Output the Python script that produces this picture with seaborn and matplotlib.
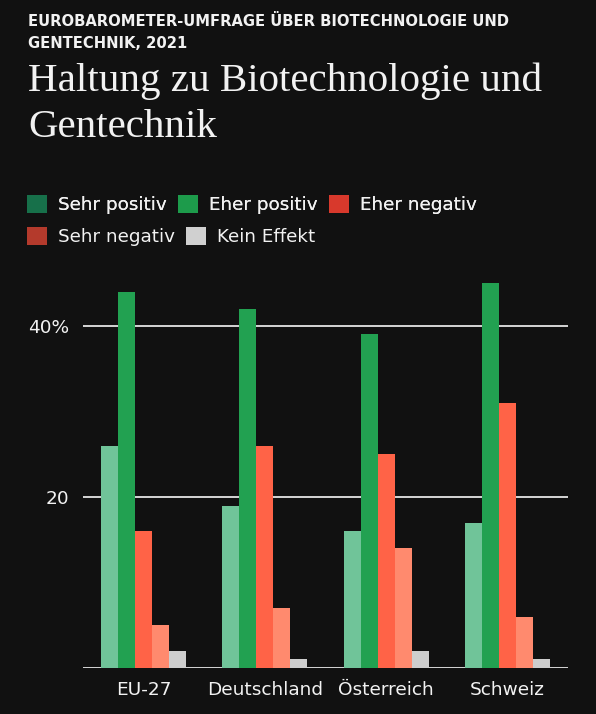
import numpy as np
import pandas as pd
import matplotlib
matplotlib.use("Agg")
import matplotlib.pyplot as plt
from matplotlib.patches import Patch
import seaborn as sns

# values (percent)
countries = ["EU-27", "Deutschland", "Österreich", "Schweiz"]
categories = ["Sehr positiv", "Eher positiv", "Eher negativ", "Sehr negativ", "Kein Effekt"]
sehr_positiv = [26, 19, 16, 17]
eher_positiv = [44, 42, 39, 45]
eher_negativ = [16, 26, 25, 31]
sehr_negativ = [5, 7, 14, 6]
kein_effekt = [2, 1, 2, 1]

bar_colors = ["#70c499", "#22a151", "#ff6347", "#ff8a6e", "#cecece"]
legend_colors = ["#17704a", "#1d9b4b", "#d8392c", "#b43a2c", "#d0d0d0"]

bg = "#111111"
fg = "#f2f2f2"

series = [sehr_positiv, eher_positiv, eher_negativ, sehr_negativ, kein_effekt]
rows = []
for cat, vals in zip(categories, series):
    for c, v in zip(countries, vals):
        rows.append({"Land": c, "Haltung": cat, "Wert": v})
df = pd.DataFrame(rows)

sns.set_theme(style="dark")
plt.rcParams["font.family"] = ["DejaVu Sans"]

fig = plt.figure(figsize=(5.96, 7.14), dpi=100)
fig.patch.set_facecolor(bg)
ax = fig.add_axes([0.1393, 0.0644, 0.8138, 0.551])
ax.set_facecolor(bg)

sns.barplot(data=df, x="Land", y="Wert", hue="Haltung", order=countries,
            hue_order=categories, palette=bar_colors, width=0.7,
            linewidth=0, saturation=1, legend=False, ax=ax, zorder=3)

ax.set_ylim(0, 46)
ax.set_xlim(-0.5, 3.5)
ax.set_yticks([0, 20, 40])
ax.set_yticklabels(["", "20", "40%"])
ax.yaxis.grid(True, color="#d6d6d6", linewidth=1.4, zorder=1)
ax.xaxis.grid(False)
ax.set_axisbelow(True)
ax.tick_params(axis="both", length=0, colors=fg, labelsize=13.3)
ax.tick_params(axis="y", pad=10)
ax.tick_params(axis="x", pad=9)
ax.set_xlabel("")
ax.set_ylabel("")
for s in ax.spines.values():
    s.set_visible(False)

# headings
fig.text(0.047, 0.981, "EUROBAROMETER-UMFRAGE ÜBER BIOTECHNOLOGIE UND\nGENTECHNIK, 2021",
         color=fg, fontsize=10.6, fontweight="bold", va="top", ha="left",
         linespacing=1.6, family=["DejaVu Sans"])
fig.text(0.047, 0.912, "Haltung zu Biotechnologie und\nGentechnik",
         color=fg, fontsize=29.5, va="top", ha="left", linespacing=1.3,
         family=["Liberation Serif", "DejaVu Serif"])

# legend in two rows, as in the original
handles = [Patch(facecolor=c, edgecolor="none") for c in legend_colors]
leg_kw = dict(frameon=False, fontsize=13.2, labelcolor=fg, handlelength=1.1,
              handleheight=1.1, handletextpad=0.6, columnspacing=0.6,
              borderaxespad=0, borderpad=0, loc="upper left")
leg1 = fig.legend(handles[:3], categories[:3], ncol=3,
                  bbox_to_anchor=(0.045, 0.727), **leg_kw)
fig.add_artist(leg1)
fig.legend(handles[3:], categories[3:], ncol=2,
           bbox_to_anchor=(0.045, 0.682), **leg_kw)

fig.savefig("out.png", dpi=100, facecolor=bg)
